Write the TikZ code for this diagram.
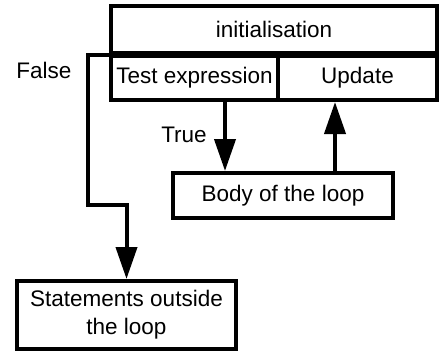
\documentclass[tikz,border=0pt]{standalone}
\usepackage{fontspec}
\setmainfont{Liberation Sans}
\usetikzlibrary{arrows.meta}

\begin{document}
\begin{tikzpicture}[x=1pt,y=-1pt,line width=4pt,
    box/.style={draw,inner sep=0pt,align=center,font=\fontsize{22.5}{28}\selectfont},
    lbl/.style={font=\fontsize{22.5}{28}\selectfont},
    arr/.style={-{Triangle[length=32pt,width=21pt]}}]
    \useasboundingbox (0,0) rectangle (446,351);
    \node[box,minimum width=326pt,minimum height=47pt] (init) at (274,29.5) {initialisation};
    \node[box,minimum width=167pt,minimum height=44pt] (test) at (194.5,78) {Test expression};
    \node[box,minimum width=159pt,minimum height=44pt] (update) at (357.5,78) {Update};
    \node[box,minimum width=220pt,minimum height=45pt] (body) at (283,195.5) {Body of the loop};
    \node[box,minimum width=219pt,minimum height=68pt] (stat) at (126.5,315) {Statements outside\\the loop};
    % labels
    \node[lbl] (true) at (184,135) {True};
    \node[lbl] (false) at (44,70) {False};
    % arrows
    \draw[arr] ([xshift=-58pt]body.north |- test.south) -- ([xshift=-58pt]body.north);
    \draw[arr] ([xshift=52pt]body.north) -- ([xshift=52pt]body.north |- update.south);
    \coordinate (fx) at (88,205);
    \draw[arr] (init.south west) -| (fx) -| (stat.north);
\end{tikzpicture}
\end{document}
